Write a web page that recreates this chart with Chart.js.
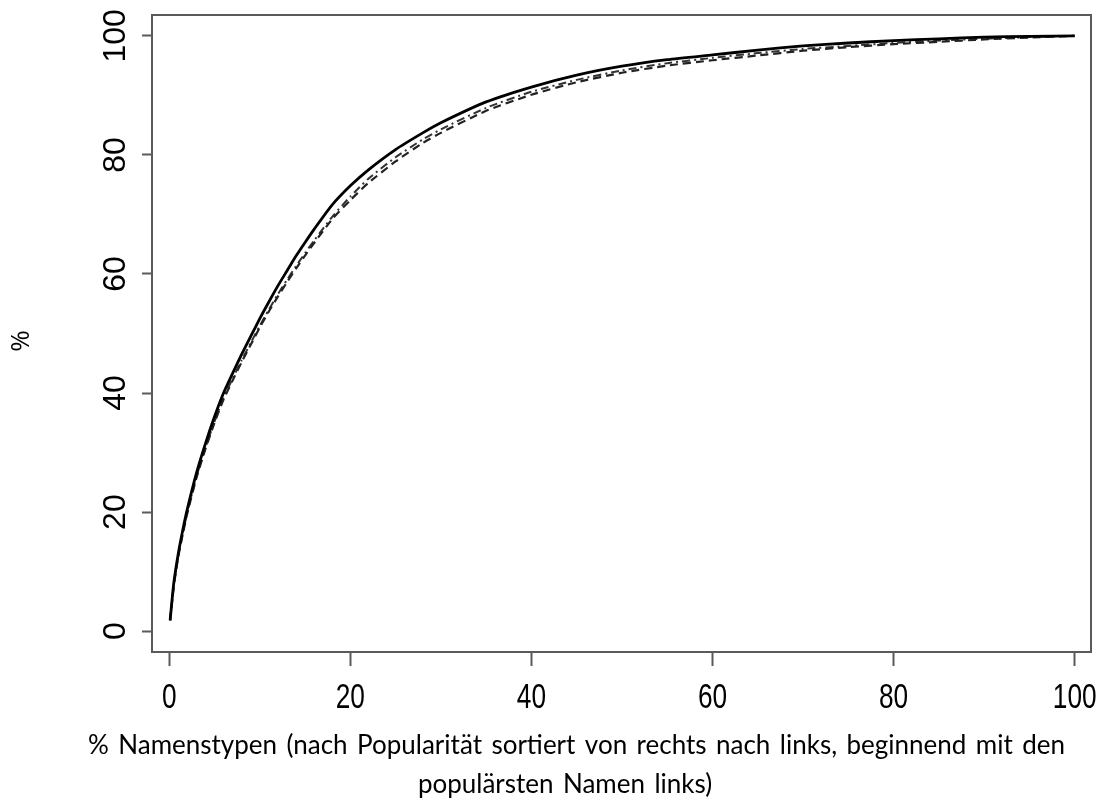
<!DOCTYPE html>
<html>
<head>
<meta charset="utf-8">
<script src="https://cdn.jsdelivr.net/npm/chart.js@4/dist/chart.umd.min.js"></script>
<style>
  html, body { margin: 0; padding: 0; background: #fff; }
  #wrap { width: 1102px; height: 807px; }
</style>
</head>
<body>
<div id="wrap"><canvas id="cumChart" width="1102" height="807"></canvas></div>
<script>
// % of name types (sorted by popularity) vs. cumulative % of tokens
const xPct = [0.1, 0.5, 1, 1.5, 2, 3, 4, 5, 6, 7, 8, 9, 10, 11, 12, 13, 14, 15, 16, 18, 20, 22, 25, 28, 30, 35, 40, 45, 50, 55, 60, 65, 70, 75, 80, 85, 90, 95, 100];
const solidPct = [1.8, 8, 13, 17, 20.5, 26.5, 31.5, 36, 40, 43.3, 46.5, 49.5, 52.5, 55.3, 58, 60.5, 63, 65.3, 67.5, 71.6, 74.8, 77.5, 80.9, 83.7, 85.4, 88.9, 91.4, 93.4, 94.9, 96, 96.8, 97.6, 98.3, 98.8, 99.2, 99.5, 99.8, 99.9, 100];
const dashPct = [1.8, 7.5, 12.5, 16.3, 19.8, 25.7, 30.6, 35, 38.9, 42.1, 45.2, 48.1, 51, 53.7, 56.2, 58.6, 60.9, 63.1, 65.2, 69.2, 72.4, 75.3, 78.9, 82, 83.7, 87.4, 90.1, 92.2, 93.8, 95, 95.9, 96.7, 97.5, 98.1, 98.6, 99, 99.4, 99.7, 100];
const dotDashPct = [1.8, 7.7, 12.7, 16.5, 20, 25.9, 30.8, 35.2, 39.2, 42.4, 45.5, 48.4, 51.3, 54, 56.6, 59, 61.3, 63.5, 65.6, 69.6, 73, 76, 79.6, 82.6, 84.3, 87.9, 90.6, 92.6, 94.2, 95.4, 96.3, 97.1, 97.8, 98.3, 98.8, 99.2, 99.5, 99.8, 100];

const xTicks = [0, 20, 40, 60, 80, 100];
const yTicks = [0, 20, 40, 60, 80, 100];
const yTitle = "%";
const captionLines = [
    "% Namenstypen (nach Popularität sortiert von rechts nach links, beginnend mit den",
    "populärsten Namen links)"
];

const toPoints = ys => xPct.map((x, i) => ({ x: x, y: ys[i] }));

// draws a line word by word with a fixed gap between words
function drawWords(ctx, words, left, y, gap) {
    let x = left;
    words.forEach(w => {
        ctx.fillText(w, x, y);
        x += ctx.measureText(w).width + gap;
    });
}

// box around the plot, rotated y labels, narrow x labels and the caption
const extras = {
    id: "extras",
    afterDraw(chart) {
        const ctx = chart.ctx;
        const a = chart.chartArea;
        const xs = chart.scales.x;
        const ys = chart.scales.y;
        ctx.save();
        ctx.strokeStyle = "#5a5a5a";
        ctx.lineWidth = 2;
        ctx.strokeRect(a.left, a.top, a.right - a.left, a.bottom - a.top);

        ctx.fillStyle = "#000";
        ctx.font = "32px 'Liberation Sans', Arial, sans-serif";
        ctx.textAlign = "center";
        ctx.textBaseline = "alphabetic";
        yTicks.forEach(v => {
            ctx.save();
            ctx.translate(125, ys.getPixelForValue(v));
            ctx.rotate(-Math.PI / 2);
            ctx.fillText(String(v), 0, 0);
            ctx.restore();
        });

        // condensed tick numbers on the x axis
        ctx.font = "35px 'Liberation Sans', Arial, sans-serif";
        xTicks.forEach(v => {
            ctx.save();
            ctx.translate(xs.getPixelForValue(v), 708);
            ctx.scale(0.75, 1);
            ctx.fillText(String(v), 0, 0);
            ctx.restore();
        });

        // y axis title
        ctx.save();
        ctx.font = "26px 'Open Sans', sans-serif";
        ctx.textBaseline = "middle";
        ctx.translate(22, 341);
        ctx.rotate(-Math.PI / 2);
        ctx.fillText(yTitle, 0, 0);
        ctx.restore();

        // caption, first line justified, second line centred
        ctx.font = "26px Lato, 'Open Sans', sans-serif";
        ctx.textAlign = "left";
        ctx.textBaseline = "middle";
        const w1 = captionLines[0].split(" ");
        const ink1 = w1.reduce((s, w) => s + ctx.measureText(w).width, 0);
        const gap = Math.max(5, (1065 - 88 - ink1) / (w1.length - 1));
        drawWords(ctx, w1, 88, 746, gap);
        const w2 = captionLines[1].split(" ");
        const ink2 = w2.reduce((s, w) => s + ctx.measureText(w).width, 0) + gap * (w2.length - 1);
        drawWords(ctx, w2, 565 - ink2 / 2, 785, gap);
        ctx.restore();
    }
};

new Chart(document.getElementById("cumChart"), {
    type: "scatter",
    data: {
        datasets: [{
            data: toPoints(solidPct),
            showLine: true,
            borderColor: "#000",
            borderWidth: 2.8,
            pointRadius: 0,
            tension: 0.2
        }, {
            data: toPoints(dashPct),
            showLine: true,
            borderColor: "#222",
            borderWidth: 2.2,
            borderDash: [8, 5],
            pointRadius: 0,
            tension: 0.2
        }, {
            data: toPoints(dotDashPct),
            showLine: true,
            borderColor: "#333",
            borderWidth: 2,
            borderDash: [2, 4, 8, 4],
            pointRadius: 0,
            tension: 0.2
        }]
    },
    options: {
        responsive: false,
        animation: false,
        layout: { padding: { top: 15, right: 11, left: 0, bottom: 0 } },
        plugins: { legend: { display: false }, tooltip: { enabled: false } },
        scales: {
            x: {
                type: "linear",
                min: -1.9,
                max: 101.8,
                afterBuildTicks: s => { s.ticks = xTicks.map(v => ({ value: v })); },
                afterFit: s => { s.height = 155; s.paddingLeft = 0; s.paddingRight = 0; },
                grid: { drawOnChartArea: false, tickLength: 14, tickColor: "#5a5a5a", tickWidth: 2 },
                border: { display: true, color: "#5a5a5a", width: 2 },
                ticks: { display: false }
            },
            y: {
                type: "linear",
                min: -3.5,
                max: 103.5,
                afterBuildTicks: s => { s.ticks = yTicks.map(v => ({ value: v })); },
                afterFit: s => { s.width = 152; s.paddingTop = 0; s.paddingBottom = 0; },
                grid: { drawOnChartArea: false, tickLength: 10, tickColor: "#5a5a5a", tickWidth: 2 },
                border: { display: true, color: "#5a5a5a", width: 2 },
                ticks: { display: false }
            }
        }
    },
    plugins: [extras]
});
</script>
</body>
</html>
